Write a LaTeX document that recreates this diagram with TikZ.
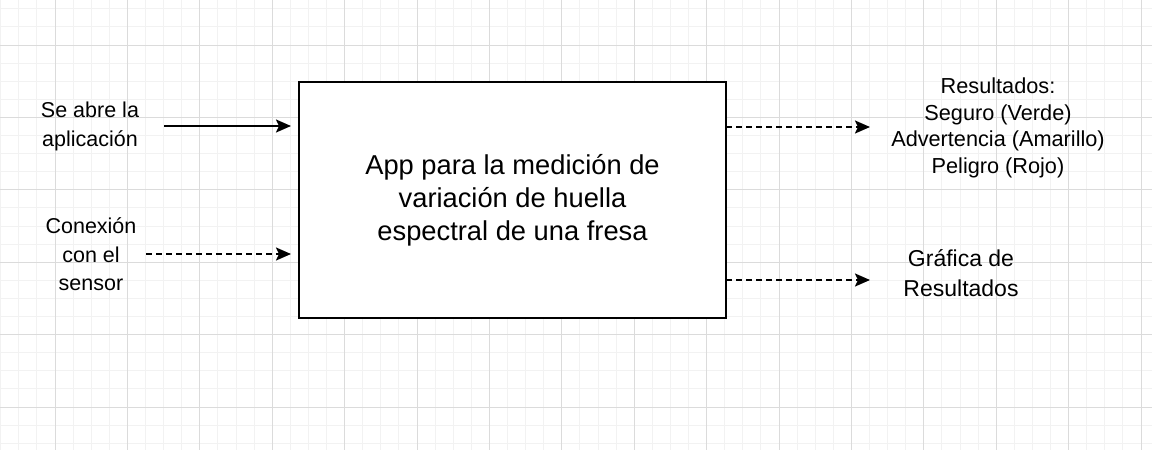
\documentclass[tikz,border=0pt]{standalone}
\usepackage{fontspec}
\setmainfont{Liberation Sans}
\usetikzlibrary{arrows.meta}

\begin{document}
\begin{tikzpicture}[x=1pt, y=-1pt,
  label/.style={align=center, inner sep=0pt},
  flow/.style={line width=2pt, -{Stealth[length=15pt, width=13pt, inset=3pt]}},
  dashflow/.style={flow, dash pattern=on 6pt off 4pt}]
 \useasboundingbox (0,0) rectangle (1152,450);
 % background and grid
 \fill[white] (0,0) rectangle (1152,450);
 \begin{scope}
 \clip (0,0) rectangle (1152,450);
 \foreach \k in {0,...,63} {
   \draw[line width=1pt, color=black!5] (0.7+18.1*\k, 0) -- (0.7+18.1*\k, 450);
 }
 \foreach \k in {0,...,24} {
   \draw[line width=1pt, color=black!5] (0, 8.8+18.1*\k) -- (1152, 8.8+18.1*\k);
 }
 \foreach \k in {0,...,15} {
   \draw[line width=1pt, color=black!14] (55+72.4*\k, 0) -- (55+72.4*\k, 450);
 }
 \foreach \k in {0,...,6} {
   \draw[line width=1pt, color=black!14] (0, 45+72.4*\k) -- (1152, 45+72.4*\k);
 }
 \end{scope}

 \draw[line width=2pt, fill=white] (299, 82) rectangle (726, 318);
 \draw (512.5, 200) node[label, font=\fontsize{27.3}{33}\selectfont] (app) {App para la medición de\\variación de huella\\espectral de una fresa};
 \draw (90, 126.5) node[label, font=\fontsize{21.5}{28.5}\selectfont] (abre) {Se abre la\\aplicación};
 \draw (91, 254.5) node[label, font=\fontsize{21.5}{28.5}\selectfont] (sensor) {Conexión\\con el\\sensor};
 \draw (998, 128) node[label, font=\fontsize{21.7}{26.7}\selectfont] (res) {Resultados:\\Seguro (Verde)\\Advertencia (Amarillo)\\Peligro (Rojo)};
 \draw (961, 273) node[label, font=\fontsize{23}{29.5}\selectfont] (graf) {Gráfica de\\Resultados};

 \coordinate (in1) at (164, 126);
 \coordinate (in2) at (146, 254);
 \coordinate (box1) at (299, 126);
 \coordinate (box2) at (299, 254);
 \coordinate (box3) at (726, 127);
 \coordinate (box4) at (726, 280);
 \coordinate (out1) at (870, 127);
 \coordinate (out2) at (870, 280);

 \draw[flow, shorten >=8pt] (in1) -- (box1);
 \draw[dashflow, shorten >=8pt] (in2) -- (box2);
 \draw[dashflow] (box3) -- (out1);
 \draw[dashflow] (box4) -- (out2);
\end{tikzpicture}
\end{document}
